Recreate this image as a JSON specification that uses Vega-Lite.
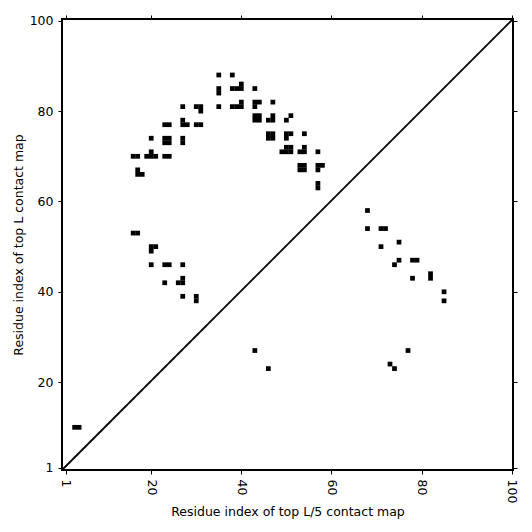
{
  "$schema": "https://vega.github.io/schema/vega-lite/v6.json",
  "width": 451,
  "height": 451,
  "autosize": "none",
  "padding": {"left": 62, "top": 19, "right": 19, "bottom": 62},
  "config": {
    "view": {"stroke": "black", "strokeWidth": 2},
    "font": "DejaVu Sans",
    "axis": {
      "grid": false,
      "domain": false,
      "tickColor": "black",
      "tickSize": 4,
      "tickWidth": 1,
      "labelColor": "black",
      "labelFont": "DejaVu Sans",
      "labelFontSize": 12.5,
      "labelPadding": 5,
      "titleColor": "black",
      "titleFont": "DejaVu Sans",
      "titleFontSize": 12.5,
      "titleFontWeight": "normal"
    }
  },
  "resolve": {"axis": {"x": "independent", "y": "independent"}},
  "layer": [
    {
      "data": {"values": [
        {"x":35,"y":88},{"x":38,"y":88},
        {"x":35,"y":85},{"x":35,"y":84},{"x":38,"y":85},{"x":39,"y":85},{"x":40,"y":85},{"x":40,"y":86},{"x":43,"y":85},
        {"x":35,"y":81},{"x":38,"y":81},{"x":39,"y":81},{"x":40,"y":81},{"x":40,"y":82},{"x":43,"y":82},{"x":44,"y":82},{"x":43,"y":81},{"x":47,"y":82},
        {"x":27,"y":81},{"x":30,"y":81},{"x":31,"y":81},{"x":31,"y":80},
        {"x":27,"y":78},{"x":27,"y":77},{"x":28,"y":77},{"x":30,"y":77},{"x":31,"y":77},{"x":23,"y":77},{"x":24,"y":77},
        {"x":43,"y":79},{"x":44,"y":79},{"x":43,"y":78},{"x":44,"y":78},{"x":47,"y":79},{"x":46,"y":78},{"x":47,"y":78},{"x":50,"y":78},{"x":51,"y":79},
        {"x":20,"y":74},{"x":23,"y":74},{"x":24,"y":74},{"x":23,"y":73},{"x":24,"y":73},{"x":27,"y":74},{"x":27,"y":73},
        {"x":46,"y":75},{"x":47,"y":75},{"x":46,"y":74},{"x":47,"y":74},{"x":50,"y":75},{"x":51,"y":75},{"x":50,"y":74},{"x":54,"y":75},
        {"x":16,"y":70},{"x":17,"y":70},{"x":20,"y":71},{"x":19,"y":70},{"x":20,"y":70},{"x":21,"y":70},{"x":23,"y":70},{"x":24,"y":70},
        {"x":49,"y":71},{"x":50,"y":71},{"x":51,"y":71},{"x":50,"y":72},{"x":51,"y":72},{"x":53,"y":71},{"x":54,"y":71},{"x":54,"y":72},{"x":57,"y":71},
        {"x":17,"y":67},{"x":17,"y":66},{"x":18,"y":66},
        {"x":53,"y":68},{"x":54,"y":68},{"x":53,"y":67},{"x":54,"y":67},{"x":57,"y":68},{"x":58,"y":68},{"x":57,"y":67},{"x":57,"y":64},{"x":57,"y":63},
        {"x":16,"y":53},{"x":17,"y":53},{"x":20,"y":50},{"x":21,"y":50},{"x":20,"y":49},{"x":20,"y":46},{"x":23,"y":46},{"x":24,"y":46},{"x":27,"y":46},
        {"x":23,"y":42},{"x":26,"y":42},{"x":27,"y":42},{"x":27,"y":43},{"x":27,"y":39},{"x":30,"y":39},{"x":30,"y":38},
        {"x":68,"y":58},{"x":68,"y":54},{"x":71,"y":54},{"x":72,"y":54},{"x":75,"y":51},{"x":71,"y":50},{"x":75,"y":47},{"x":78,"y":47},{"x":79,"y":47},
        {"x":74,"y":46},{"x":78,"y":43},{"x":82,"y":44},{"x":82,"y":43},{"x":85,"y":40},{"x":85,"y":38},
        {"x":43,"y":27},{"x":46,"y":23},{"x":77,"y":27},{"x":73,"y":24},{"x":74,"y":23},
        {"x":3,"y":10},{"x":4,"y":10}
      ]},
      "mark": {"type": "point", "shape": "square", "filled": true, "size": 22.5, "color": "black", "opacity": 1, "strokeWidth": 0},
      "encoding": {
        "x": {"field": "x", "type": "quantitative",
              "scale": {"domain": [0.2, 100.3], "nice": false, "zero": false},
              "axis": {"values": [1, 20, 40, 60, 80, 100], "labelAngle": 90, "labelAlign": "left", "labelBaseline": "middle", "title": "Residue index of top L/5 contact map", "titlePadding": 3}},
        "y": {"field": "y", "type": "quantitative",
              "scale": {"domain": [0.55, 100.4], "nice": false, "zero": false},
              "axis": {"values": [1, 20, 40, 60, 80, 100], "title": "Residue index of top L contact map", "titlePadding": 4}}
      }
    },
    {
      "data": {"values": [{"x": 0.2, "y": 0.55}, {"x": 100.3, "y": 100.4}]},
      "mark": {"type": "line", "color": "black", "strokeWidth": 1.8},
      "encoding": {
        "x": {"field": "x", "type": "quantitative",
              "axis": {"orient": "top", "values": [1, 20, 40, 60, 80, 100], "labels": false, "title": null}},
        "y": {"field": "y", "type": "quantitative",
              "axis": {"orient": "right", "values": [1, 20, 40, 60, 80, 100], "labels": false, "title": null}}
      }
    }
  ]
}
